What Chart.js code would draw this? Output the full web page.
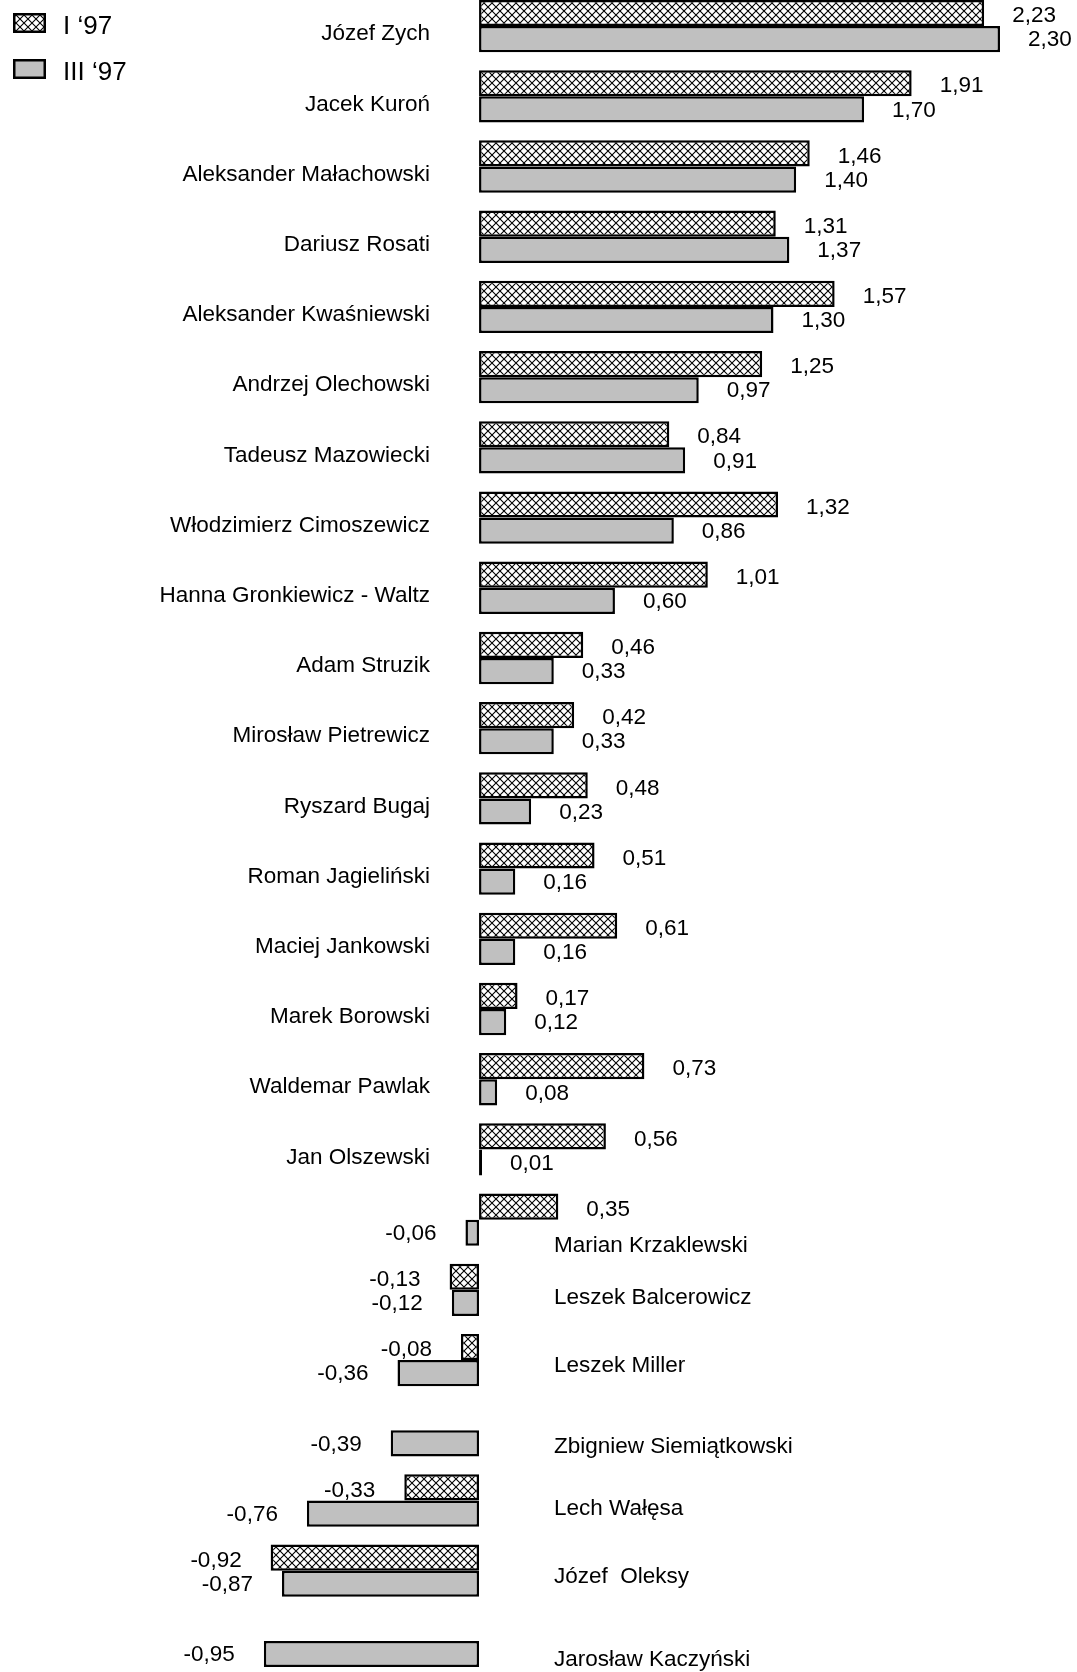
<!DOCTYPE html>
<html>
<head>
<meta charset="utf-8">
<script src="https://cdn.jsdelivr.net/npm/chart.js@4/dist/chart.umd.min.js"></script>
<style>
  html, body { margin: 0; padding: 0; background: #fff; width: 1077px; height: 1672px; overflow: hidden; }
  #wrap { position: absolute; left: 0; top: -9px; width: 1077px; height: 1685px; }
</style>
</head>
<body>
<div id="wrap"><canvas id="c" width="1077" height="1685"></canvas></div>
<script>
const categories = [
  "Józef Zych", "Jacek Kuroń", "Aleksander Małachowski", "Dariusz Rosati",
  "Aleksander Kwaśniewski", "Andrzej Olechowski", "Tadeusz Mazowiecki",
  "Włodzimierz Cimoszewicz", "Hanna Gronkiewicz - Waltz", "Adam Struzik",
  "Mirosław Pietrewicz", "Ryszard Bugaj", "Roman Jagieliński", "Maciej Jankowski",
  "Marek Borowski", "Waldemar Pawlak", "Jan Olszewski", "Marian Krzaklewski",
  "Leszek Balcerowicz", "Leszek Miller", "Zbigniew Siemiątkowski", "Lech Wałęsa",
  "Józef  Oleksy", "Jarosław Kaczyński"
];
const seriesNames = ["I \u201897", "III \u201897"];
const valuesJan = [2.23, 1.91, 1.46, 1.31, 1.57, 1.25, 0.84, 1.32, 1.01, 0.46, 0.42, 0.48,
  0.51, 0.61, 0.17, 0.73, 0.56, 0.35, -0.13, -0.08, null, -0.33, -0.92, null];
const valuesMar = [2.30, 1.70, 1.40, 1.37, 1.30, 0.97, 0.91, 0.86, 0.60, 0.33, 0.33, 0.23,
  0.16, 0.16, 0.12, 0.08, 0.01, -0.06, -0.12, -0.36, -0.39, -0.76, -0.87, -0.95];

// layout-only tweaks (extra vertical offset of some name labels, px)
const nameOffsets = { "Marian Krzaklewski": 18, "Zbigniew Siemiątkowski": 9, "Jarosław Kaczyński": 11, "Leszek Miller": -2, "Józef  Oleksy": -2 };

const canvas = document.getElementById('c');
const ctx = canvas.getContext('2d');

function makeHatch() {
  const s = 8;
  const c = document.createElement('canvas');
  c.width = s; c.height = s;
  const g = c.getContext('2d');
  g.fillStyle = '#fff'; g.fillRect(0, 0, s, s);
  g.strokeStyle = '#000'; g.lineWidth = 1.1;
  g.beginPath();
  g.moveTo(-2, -2); g.lineTo(s + 2, s + 2);
  g.moveTo(s + 2, -2); g.lineTo(-2, s + 2);
  g.stroke();
  return ctx.createPattern(c, 'repeat');
}
const hatch = makeHatch();
const GRAY = '#c0c0c0';
const FONT = '"Liberation Sans", Arial, sans-serif';

const fmt = v => v.toFixed(2).replace('.', ',');

const labelPlugin = {
  id: 'labels',
  afterDatasetsDraw(chart) {
    const c = chart.ctx;
    c.save();
    c.fillStyle = '#000';
    c.font = '22.5px ' + FONT;
    c.textBaseline = 'middle';
    chart.data.datasets.forEach((ds, di) => {
      const meta = chart.getDatasetMeta(di);
      meta.data.forEach((el, i) => {
        const v = ds.data[i];
        if (v === null || v === undefined) return;
        const dy = di === 0 ? 3 : 1;
        if (v >= 0) { c.textAlign = 'left'; c.fillText(fmt(v), el.x + 28, el.y + dy); }
        else { c.textAlign = 'right'; c.fillText(fmt(v), el.x - 29, el.y + dy); }
      });
    });
    // category names
    const ys = chart.scales.y;
    categories.forEach((name, i) => {
      const y = ys.getPixelForValue(i) + 8 + (nameOffsets[name] || 0);
      if (valuesMar[i] >= 0) { c.textAlign = 'right'; c.fillText(name, 430, y); }
      else { c.textAlign = 'left'; c.fillText(name, 554, y); }
    });
    // legend
    const off = 9;
    const boxes = [[13, 13, hatch], [13, 59, GRAY]];
    c.font = '26px ' + FONT;
    c.textAlign = 'left';
    boxes.forEach((b, k) => {
      c.fillStyle = b[2];
      c.fillRect(b[0], b[1] + off, 33, 20);
      c.strokeStyle = '#000'; c.lineWidth = 2.5;
      c.strokeRect(b[0] + 1.25, b[1] + off + 1.25, 30.5, 17.5);
      c.fillStyle = '#000';
      c.fillText(seriesNames[k], 63, b[1] + off + 14);
    });
    c.restore();
  }
};

new Chart(ctx, {
  type: 'bar',
  data: {
    labels: categories,
    datasets: [
      { label: seriesNames[0], data: valuesJan, backgroundColor: hatch, borderColor: '#000', borderWidth: 2.5, borderSkipped: false },
      { label: seriesNames[1], data: valuesMar, backgroundColor: GRAY, borderColor: '#000', borderWidth: 2.5, borderSkipped: false, minBarLength: 3 }
    ]
  },
  options: {
    indexAxis: 'y',
    responsive: false,
    animation: false,
    devicePixelRatio: 1,
    layout: { padding: 0 },
    categoryPercentage: 0.745,
    barPercentage: 1.0,
    plugins: { legend: { display: false }, tooltip: { enabled: false } },
    scales: {
      x: { type: 'linear', min: -2.115, max: 2.640, display: false },
      y: { type: 'category', display: false }
    }
  },
  plugins: [labelPlugin]
});
</script>
</body>
</html>
